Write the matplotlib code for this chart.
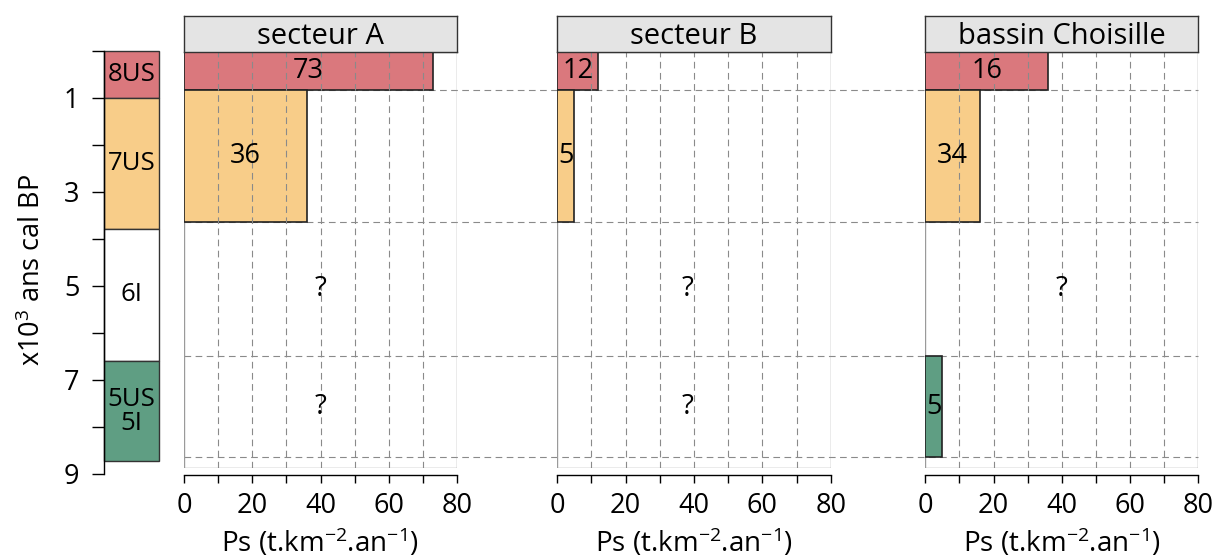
import numpy as np
import matplotlib
matplotlib.use("Agg")
import matplotlib.pyplot as plt
from matplotlib.patches import Rectangle
from matplotlib.lines import Line2D
import matplotlib.transforms as mtransforms

plt.rcParams["font.family"] = ["Open Sans", "DejaVu Sans"]
plt.rcParams["mathtext.default"] = "regular"

# Périodes (x10^3 ans cal BP)
periodes = ["8US", "7US", "6I", "5US\n5I"]
bornes = [0, 1, 3.78, 6.6, 8.73]
couleurs = ["#da787d", "#f8cd89", "#ffffff", "#5f9e83"]

# Ps (t.km-2.an-1) par secteur et par période
secteurs = ["secteur A", "secteur B", "bassin Choisille"]
ps_a = [73, 36, np.nan, np.nan]
ps_b = [12, 5, np.nan, np.nan]
ps_choisille = [36, 16, np.nan, 5]
etiq_a = ["73", "36", "?", "?"]
etiq_b = ["12", "5", "?", "?"]
etiq_choisille = ["16", "34", "?", "5"]
x_inconnu = [40, 38, 40]

x_ticks = list(range(0, 81, 10))
x_labels = [str(t) if t % 20 == 0 else "" for t in x_ticks]
y_ticks = list(range(0, 10))
y_labels = [str(t) if t % 2 == 1 else "" for t in y_ticks]

W, H = 1220, 560
HAUT = 0.2  # haut visible des panneaux


def boite(x0, y0, x1, y1):
    """Position en pixels (origine en haut à gauche) -> fraction de figure."""
    return [x0 / W, 1 - y1 / H, (x1 - x0) / W, (y1 - y0) / H]


fig = plt.figure(figsize=(W / 100, H / 100), dpi=100)

# Colonne des périodes
ax_p = fig.add_axes(boite(104, 51, 159, 474))
ax_p.set_xlim(0, 1)
ax_p.set_ylim(9, 0)
for i, nom in enumerate(periodes):
    lo, hi = bornes[i], bornes[i + 1]
    ax_p.add_patch(Rectangle((0, lo), 1, hi - lo, facecolor=couleurs[i],
                             edgecolor="#333333", lw=1, clip_on=False))
    ax_p.text(0.5, (lo + hi) / 2, nom, ha="center", va="center",
              fontsize=18.5, linespacing=0.95)
for s in ["top", "right", "bottom"]:
    ax_p.spines[s].set_visible(False)
ax_p.spines["left"].set_bounds(0, 9)
ax_p.spines["left"].set_linewidth(1)
ax_p.set_xticks([])
ax_p.set_yticks(y_ticks)
ax_p.set_yticklabels(y_labels, fontsize=19.5)
ax_p.tick_params(axis="y", length=8.6, width=1, pad=9)
fig.text(33 / W, 1 - 270 / H, "x10$^3$ ans cal BP", rotation=90,
         ha="center", va="center", fontsize=19.5)

panneaux_x = [(184, 457), (557.3, 830.7), (925.3, 1198.3)]
valeurs = [ps_a, ps_b, ps_choisille]
etiquettes = [etiq_a, etiq_b, etiq_choisille]

axes = []
for k, (x0, x1) in enumerate(panneaux_x):
    ax = fig.add_axes(boite(x0, 52, x1, 468))
    ax.set_facecolor("none")
    ax.set_xlim(0, 80)
    ax.set_ylim(8.96, HAUT)
    ax.add_patch(Rectangle((0, 0), 1, 1, transform=ax.transAxes, fill=False,
                           edgecolor="#9a9a9a", lw=1, zorder=1))
    for i in range(len(periodes)):
        lo, hi = bornes[i], bornes[i + 1]
        v = valeurs[k][i]
        ym = (max(lo, HAUT) + hi) / 2
        if np.isnan(v):
            ax.text(x_inconnu[k], ym, etiquettes[k][i], ha="center",
                    va="center", fontsize=20, zorder=5)
        else:
            ax.barh((lo + hi) / 2, v, height=hi - lo, left=0,
                    color=couleurs[i], edgecolor="#222222", lw=1.2, zorder=2)
            ax.text(v / 2, ym, etiquettes[k][i], ha="center", va="center",
                    fontsize=19.5, zorder=5)
    ax.vlines(x_ticks[1:-1], 8.96, HAUT, colors="#8a8a8a", lw=0.8,
              linestyles=(0, (6, 4)), zorder=3)
    for s in ["top", "right", "left"]:
        ax.spines[s].set_visible(False)
    ax.spines["bottom"].set_position(("outward", 5))
    ax.spines["bottom"].set_bounds(0, 80)
    ax.spines["bottom"].set_linewidth(1)
    ax.set_yticks([])
    ax.set_xticks(x_ticks)
    ax.set_xticklabels(x_labels, fontsize=19.5)
    ax.tick_params(axis="x", length=6, width=1, pad=6)
    ax.set_xlabel("Ps (t.km$^{-2}$.an$^{-1}$)", fontsize=20)
    ax.xaxis.set_label_coords(0.5, -0.14)

    # bandeau de titre
    at = fig.add_axes(boite(x0, 16, x1, 52))
    at.set_facecolor("#e4e4e4")
    at.set_xticks([])
    at.set_yticks([])
    for s in at.spines.values():
        s.set_linewidth(1)
        s.set_color("#333333")
    at.text(0.5, 0.42, secteurs[k], ha="center", va="center", fontsize=21,
            transform=at.transAxes)
    axes.append(ax)

# Limites des périodes, tracées à travers tous les panneaux
trans = mtransforms.blended_transform_factory(fig.transFigure, axes[0].transData)
for b in bornes[1:]:
    fig.add_artist(Line2D([184 / W, 1198.3 / W], [b, b], transform=trans,
                          color="#8a8a8a", lw=0.8, linestyle=(0, (6, 4)),
                          zorder=-1))

fig.savefig("out.png", dpi=100)
